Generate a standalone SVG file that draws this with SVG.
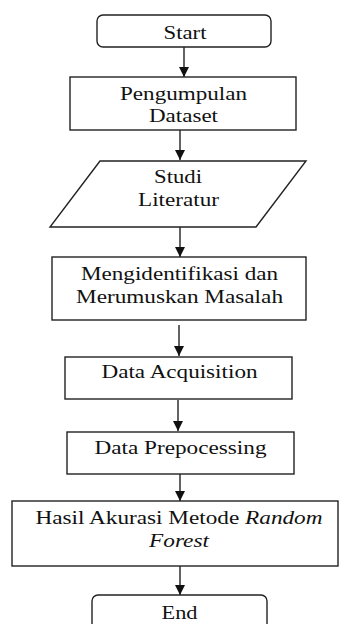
<svg xmlns="http://www.w3.org/2000/svg" width="339" height="624" viewBox="0 0 339 624">
<style>
.s{fill:#fff;stroke:#222;stroke-width:1.4}
.t{font-family:"Liberation Serif","Times New Roman",serif;font-size:18px;fill:#111;text-anchor:middle}
.i{font-style:italic}
.c{fill:none;stroke:#222;stroke-width:1.4}
</style>
<defs>
<marker id="ah" markerUnits="userSpaceOnUse" markerWidth="12" markerHeight="10" refX="10" refY="5" orient="auto">
<path d="M0,0 L10,5 L0,10 Z" fill="#111"/>
</marker>
</defs>
<rect width="339" height="624" fill="#fff"/>
<g id="connectors">
<line class="c" x1="184" y1="47" x2="184" y2="77" marker-end="url(#ah)"/>
<line class="c" x1="180" y1="130" x2="180" y2="160" marker-end="url(#ah)"/>
<line class="c" x1="180" y1="227" x2="180" y2="257" marker-end="url(#ah)"/>
<line class="c" x1="179" y1="325" x2="179" y2="356" marker-end="url(#ah)"/>
<line class="c" x1="178" y1="400" x2="178" y2="431" marker-end="url(#ah)"/>
<line class="c" x1="180" y1="474" x2="180" y2="501" marker-end="url(#ah)"/>
<line class="c" x1="180" y1="566" x2="180" y2="595" marker-end="url(#ah)"/>
</g>
<g id="start">
<rect class="s" x="97" y="15" width="174" height="32" rx="6"/>
<text class="t" x="185" y="39" textLength="43" lengthAdjust="spacingAndGlyphs">Start</text>
</g>
<g id="pengumpulan">
<rect class="s" x="70" y="77" width="226" height="53"/>
<text class="t" x="183.5" y="100" textLength="127" lengthAdjust="spacingAndGlyphs">Pengumpulan</text>
<text class="t" x="183.5" y="122" textLength="69" lengthAdjust="spacingAndGlyphs">Dataset</text>
</g>
<g id="studi">
<polygon class="s" points="100,161 306,161 256,227 50,227"/>
<text class="t" x="178" y="183" textLength="48" lengthAdjust="spacingAndGlyphs">Studi</text>
<text class="t" x="178.5" y="206" textLength="81" lengthAdjust="spacingAndGlyphs">Literatur</text>
</g>
<g id="identifikasi">
<rect class="s" x="52" y="257" width="254" height="63"/>
<text class="t" x="179.5" y="280" textLength="197" lengthAdjust="spacingAndGlyphs">Mengidentifikasi dan</text>
<text class="t" x="179.5" y="302.5" textLength="207" lengthAdjust="spacingAndGlyphs">Merumuskan Masalah</text>
</g>
<g id="acquisition">
<rect class="s" x="65" y="357" width="227" height="42"/>
<text class="t" x="179.5" y="378" textLength="156" lengthAdjust="spacingAndGlyphs">Data Acquisition</text>
</g>
<g id="preprocessing">
<rect class="s" x="67" y="432" width="227" height="42"/>
<text class="t" x="180.5" y="454" textLength="172" lengthAdjust="spacingAndGlyphs">Data Prepocessing</text>
</g>
<g id="hasil">
<rect class="s" x="12" y="501" width="326" height="65"/>
<text class="t" x="179" y="524" textLength="287" lengthAdjust="spacingAndGlyphs">Hasil Akurasi Metode <tspan class="i">Random</tspan></text>
<text class="t i" x="179" y="547" textLength="60" lengthAdjust="spacingAndGlyphs">Forest</text>
</g>
<g id="end">
<rect class="s" x="92" y="595" width="175" height="40" rx="6"/>
<text class="t" x="179.5" y="619" textLength="36" lengthAdjust="spacingAndGlyphs">End</text>
</g>
</svg>
